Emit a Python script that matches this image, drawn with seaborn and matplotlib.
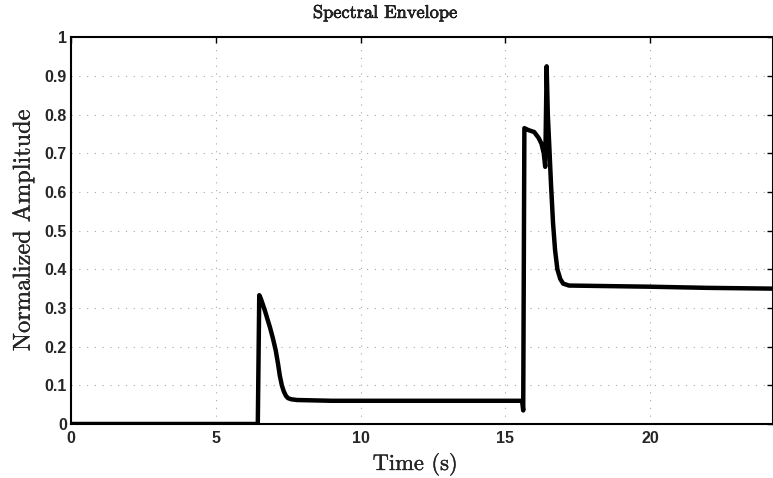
import matplotlib
matplotlib.use("Agg")
import matplotlib.pyplot as plt
import matplotlib.patheffects as pe
import seaborn as sns
import pandas as pd

time_s = [0.0, 6.45, 6.5, 6.55, 6.62, 6.7, 6.78, 6.87, 6.97, 7.07, 7.15, 7.21, 7.28,
          7.35, 7.42, 7.49, 7.6, 7.8, 9.0, 12.0, 15.58, 15.62, 15.66, 15.8, 16.0,
          16.15, 16.25, 16.33, 16.38, 16.43, 16.47, 16.52, 16.58, 16.65, 16.72,
          16.8, 16.9, 17.0, 17.2, 20.0, 22.0, 24.3]
amplitude = [0.0, 0.0, 0.333, 0.325, 0.31, 0.292, 0.272, 0.25, 0.222, 0.19, 0.155,
             0.125, 0.1, 0.084, 0.073, 0.067, 0.064, 0.062, 0.060, 0.060, 0.060,
             0.035, 0.765, 0.76, 0.755, 0.74, 0.725, 0.70, 0.665, 0.925, 0.80,
             0.72, 0.62, 0.52, 0.45, 0.40, 0.375, 0.363, 0.358, 0.355, 0.352, 0.350]

x_ticks = [0, 5, 10, 15, 20]
y_ticks = [0, 0.1, 0.2, 0.3, 0.4, 0.5, 0.6, 0.7, 0.8, 0.9, 1]
y_tick_labels = ["0", "0.1", "0.2", "0.3", "0.4", "0.5", "0.6", "0.7", "0.8", "0.9", "1"]

df = pd.DataFrame({"Time": time_s, "Amplitude": amplitude})

sns.set_style("white")
fig = plt.figure(figsize=(7.73, 4.78), dpi=100)
ax = fig.add_axes([0.092, 0.113, 0.908, 0.809])

sns.lineplot(data=df, x="Time", y="Amplitude", ax=ax, color="black", linewidth=3.2)

ax.set_xlim(0, 24.25)
ax.set_ylim(0, 1)
ax.set_xticks(x_ticks)
ax.set_xticklabels([str(t) for t in x_ticks])
ax.set_yticks(y_ticks)
ax.set_yticklabels(y_tick_labels)

for lbl in ax.get_xticklabels() + ax.get_yticklabels():
    lbl.set_fontfamily("Liberation Sans")
    lbl.set_fontweight("bold")
    lbl.set_fontsize(11.5)

ax.tick_params(direction="in", length=4, width=1, top=True, right=True,
               color="black")
ax.tick_params(axis="x", pad=5)
ax.tick_params(axis="y", pad=3)
ax.grid(True, color="#a8a8a8", linestyle=(0, (1, 6)), linewidth=0.8)

for s in ax.spines.values():
    s.set_color("black")
    s.set_linewidth(1.5)

t = ax.set_title("Spectral Envelope", fontfamily="cmr10", fontsize=13.2,
                 x=0.447, pad=14)
xl = ax.set_xlabel("Time (s)", fontfamily="cmr10", fontsize=16.2)
yl = ax.set_ylabel("Normalized Amplitude", fontfamily="cmr10", fontsize=17.5)
t.set_path_effects([pe.withStroke(linewidth=0.45, foreground="black")])
for txt in (xl, yl):
    txt.set_path_effects([pe.withStroke(linewidth=0.2, foreground="black")])
ax.yaxis.set_label_coords(-0.052, 0.5)
ax.xaxis.set_label_coords(0.49, -0.075)

fig.savefig("out.png", dpi=100)
